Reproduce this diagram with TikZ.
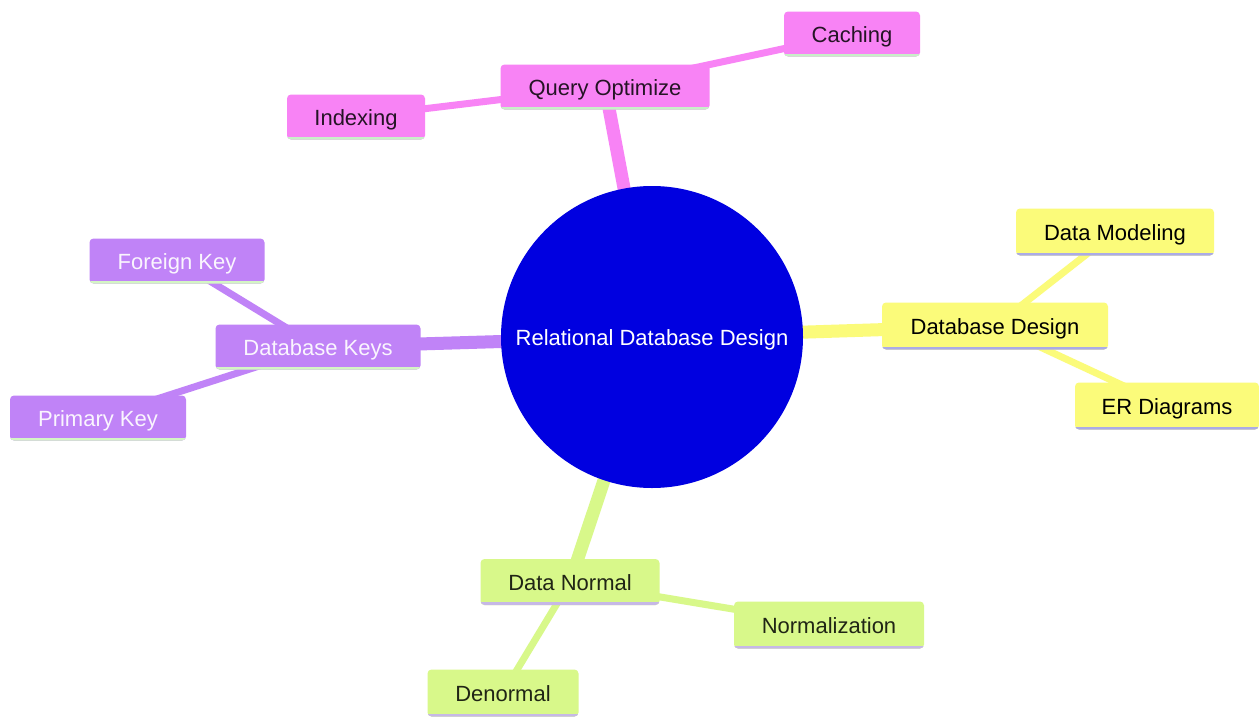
\documentclass[tikz,border=0pt]{standalone}
\usepackage{fontspec}
\setmainfont{Liberation Sans}
\begin{document}
\begin{tikzpicture}[x=1pt,y=-1pt,
  font=\fontsize{22}{25}\selectfont,
  box/.style={rounded corners=4pt, inner xsep=0pt, inner ysep=0pt, minimum height=45pt, text height=17pt, text depth=1pt, align=center},
  uline/.style={path picture={\draw[line width=6pt,#1] (path picture bounding box.south west) -- (path picture bounding box.south east);}},
  mag/.style={box, fill=magc, text=black!85!magc, uline=magu},
  pur/.style={box, fill=purc, text=white!92!purc, uline=puru},
  yel/.style={box, fill=yelc, text=black, uline=yelu},
  grn/.style={box, fill=grnc, text=black!85!grnc, uline=grnu},
  e1/.style={line width=13pt},
  e2/.style={line width=7pt},
]
\definecolor{magc}{HTML}{F883F5}
\definecolor{magu}{HTML}{C8F0C8}
\definecolor{purc}{HTML}{C083F7}
\definecolor{puru}{HTML}{D4F5C4}
\definecolor{yelc}{HTML}{FBFB7A}
\definecolor{yelu}{HTML}{ABABE6}
\definecolor{grnc}{HTML}{D8F88A}
\definecolor{grnu}{HTML}{C6B8E6}
\definecolor{rootc}{HTML}{0000E0}
\useasboundingbox[fill=white] (0,0) rectangle (1259,718);

% coordinates of node centres
\coordinate (cR) at (652,337);
\coordinate (cQ) at (605,87);
\coordinate (cC) at (852,34);
\coordinate (cI) at (356,117);
\coordinate (cK) at (318,347);
\coordinate (cF) at (177,261);
\coordinate (cP) at (98,418);
\coordinate (cD) at (995,326);
\coordinate (cM) at (1115,232);
\coordinate (cE) at (1167,406);
\coordinate (cN) at (570,582);
\coordinate (cZ) at (829,625);
\coordinate (cX) at (503,693);

% edges
\draw[e1, magc] (cR) -- (cQ);
\draw[e2, magc] (cQ) -- (cC);
\draw[e2, magc] (cQ) -- (cI);
\draw[e1, purc] (cR) -- (cK);
\draw[e2, purc] (cK) -- (cF);
\draw[e2, purc] (cK) -- (cP);
\draw[e1, yelc] (cR) -- (cD);
\draw[e2, yelc] (cD) -- (cM);
\draw[e2, yelc] (cD) -- (cE);
\draw[e1, grnc] (cR) -- (cN);
\draw[e2, grnc] (cN) -- (cZ);
\draw[e2, grnc] (cN) -- (cX);

% nodes
\node[circle, fill=rootc, minimum size=302pt, inner sep=0pt, text=white, text height=17pt, text depth=1pt] (root) at (cR) {Relational Database Design};
\node[mag, minimum width=209pt] (qo) at (cQ) {Query Optimize};
\node[mag, minimum width=136pt] (ca) at (cC) {Caching};
\node[mag, minimum width=138pt] (ix) at (cI) {Indexing};
\node[pur, minimum width=205pt] (dk) at (cK) {Database Keys};
\node[pur, minimum width=175pt] (fk) at (cF) {Foreign Key};
\node[pur, minimum width=176pt] (pk) at (cP) {Primary Key};
\node[yel, minimum width=226pt, minimum height=47pt] (dd) at (cD) {Database Design};
\node[yel, minimum width=198pt, minimum height=47pt] (dm) at (cM) {Data Modeling};
\node[yel, minimum width=184pt, minimum height=47pt] (er) at (cE) {ER Diagrams};
\node[grn, minimum width=179pt, minimum height=46pt] (dn) at (cN) {Data Normal};
\node[grn, minimum width=190pt, minimum height=47pt] (nz) at (cZ) {Normalization};
\node[grn, minimum width=151pt, minimum height=47pt] (de) at (cX) {Denormal};
\end{tikzpicture}
\end{document}
